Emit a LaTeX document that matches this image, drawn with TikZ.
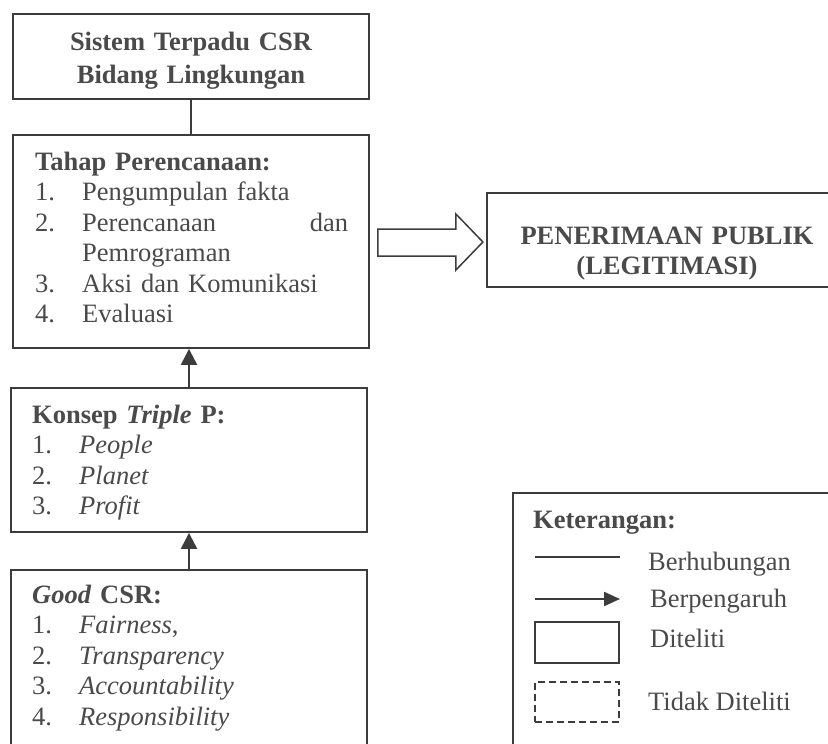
\documentclass[tikz,border=0pt]{standalone}
\usepackage{fontspec}
\setmainfont{Liberation Serif}
\usetikzlibrary{arrows.meta, positioning, calc}
\definecolor{inkgrey}{HTML}{4A4A4A}
\definecolor{linegrey}{HTML}{3C3C3C}
\newcommand{\bodysize}{\fontsize{26.5}{30.5}\selectfont}
\newcommand{\numitem}[2]{\makebox[47pt][l]{#1}#2}

\begin{document}
\begin{tikzpicture}[x=1pt, y=1pt,
    every node/.style={text=inkgrey, font=\bodysize},
    box/.style={draw=linegrey, line width=1.8pt, inner sep=0pt},
    listtext/.style={anchor=base west, inner sep=0pt, text width=313pt, align=left},
    boldtext/.style={anchor=base, inner sep=0pt, text width=340pt, align=center, font=\bodysize\bfseries},
    relation/.style={draw=linegrey, line width=1.8pt},
    influence/.style={-{Triangle[width=16pt, length=16pt]}, draw=linegrey, line width=2.2pt},
    hollow/.style={draw=linegrey, line width=1.5pt, line join=miter}]
    \useasboundingbox (0,0) rectangle (828,-744);
    \clip (0,0) rectangle (828,-744);
    \fill[white] (0,0) rectangle (828,-744);

    % left column
    \node[box, minimum width=356pt, minimum height=85pt] (sistem) at (191,-56.5) {};
    \node[boldtext, font=\fontsize{26.5}{33}\selectfont\bfseries] (sistemtext) at (191,-50) {Sistem Terpadu CSR\\Bidang Lingkungan};

    \node[box, minimum width=356pt, minimum height=213pt] (tahap) at (191,-241.5) {};
    \node[listtext] (tahaptext) at (35,-170) {\textbf{Tahap Perencanaan:}\\
      \numitem{1.}{Pengumpulan fakta}\\
      \numitem{2.}{Perencanaan\hfill dan}\\
      \hspace*{47pt}Pemrograman\\
      \numitem{3.}{Aksi dan Komunikasi}\\
      \numitem{4.}{Evaluasi}};

    \node[box, minimum width=356pt, minimum height=144pt] (konsep) at (189,-460) {};
    \node[listtext] (konseptext) at (32,-423) {\textbf{Konsep \textit{Triple} P:}\\
      \numitem{1.}{\textit{People}}\\
      \numitem{2.}{\textit{Planet}}\\
      \numitem{3.}{\textit{Profit}}};

    \node[box, minimum width=356pt, minimum height=190pt] (good) at (189,-665) {};
    \node[listtext] (goodtext) at (32,-603) {\textbf{\textit{Good} CSR:}\\
      \numitem{1.}{\textit{Fairness},}\\
      \numitem{2.}{\textit{Transparency}}\\
      \numitem{3.}{\textit{Accountability}}\\
      \numitem{4.}{\textit{Responsibility}}};

    \draw[relation] (sistem) -- (tahap);
    \draw[influence] (konsep.north) -- (konsep.north |- tahap.south);
    \draw[influence] (good.north) -- (good.north |- konsep.south);

    % outcome
    \node[box, minimum width=358pt, minimum height=94pt] (publik) at (666,-240) {};
    \node[boldtext, font=\fontsize{26.5}{30}\selectfont\bfseries] (publiktext) at (667,-244) {PENERIMAAN PUBLIK\\(LEGITIMASI)};

    \begin{scope}[shift={(tahap.east)}]
      \draw[hollow] (8,12.5) -- (86,12.5) -- (86,27.5) -- (113,-0.5) -- (86,-28.5) -- (86,-14.5) -- (8,-14.5) -- cycle;
    \end{scope}

    % legend
    \node[box, minimum width=337pt, minimum height=267pt] (legend) at (681.5,-626.5) {};
    \node[anchor=base west, inner sep=0pt, font=\bodysize\bfseries] (legendtitle) at (533,-528) {Keterangan:};

    \coordinate (linefrom) at (535,-557);
    \coordinate (lineto) at (620,-557);
    \draw[relation, line width=1.3pt] (linefrom) -- (lineto);
    \node[anchor=base west, inner sep=0pt] (berhubungan) at (648,-570) {Berhubungan};

    \coordinate (arrowfrom) at (535,-599);
    \coordinate (arrowto) at (620,-599);
    \draw[influence, -{Triangle[width=14pt, length=16pt]}] (arrowfrom) -- (arrowto);
    \node[anchor=base west, inner sep=0pt] (berpengaruh) at (650,-607) {Berpengaruh};

    \node[box, line width=1.5pt, minimum width=84pt, minimum height=41pt] (samplesolid) at (577,-642.5) {};
    \node[anchor=base west, inner sep=0pt] (diteliti) at (650,-647) {Diteliti};

    \node[box, line width=1.5pt, dash pattern=on 7pt off 4pt, minimum width=84pt, minimum height=40pt] (sampledashed) at (577,-702) {};
    \node[anchor=base west, inner sep=0pt] (tidakditeliti) at (648,-710) {Tidak Diteliti};
  \end{tikzpicture}
\end{document}
